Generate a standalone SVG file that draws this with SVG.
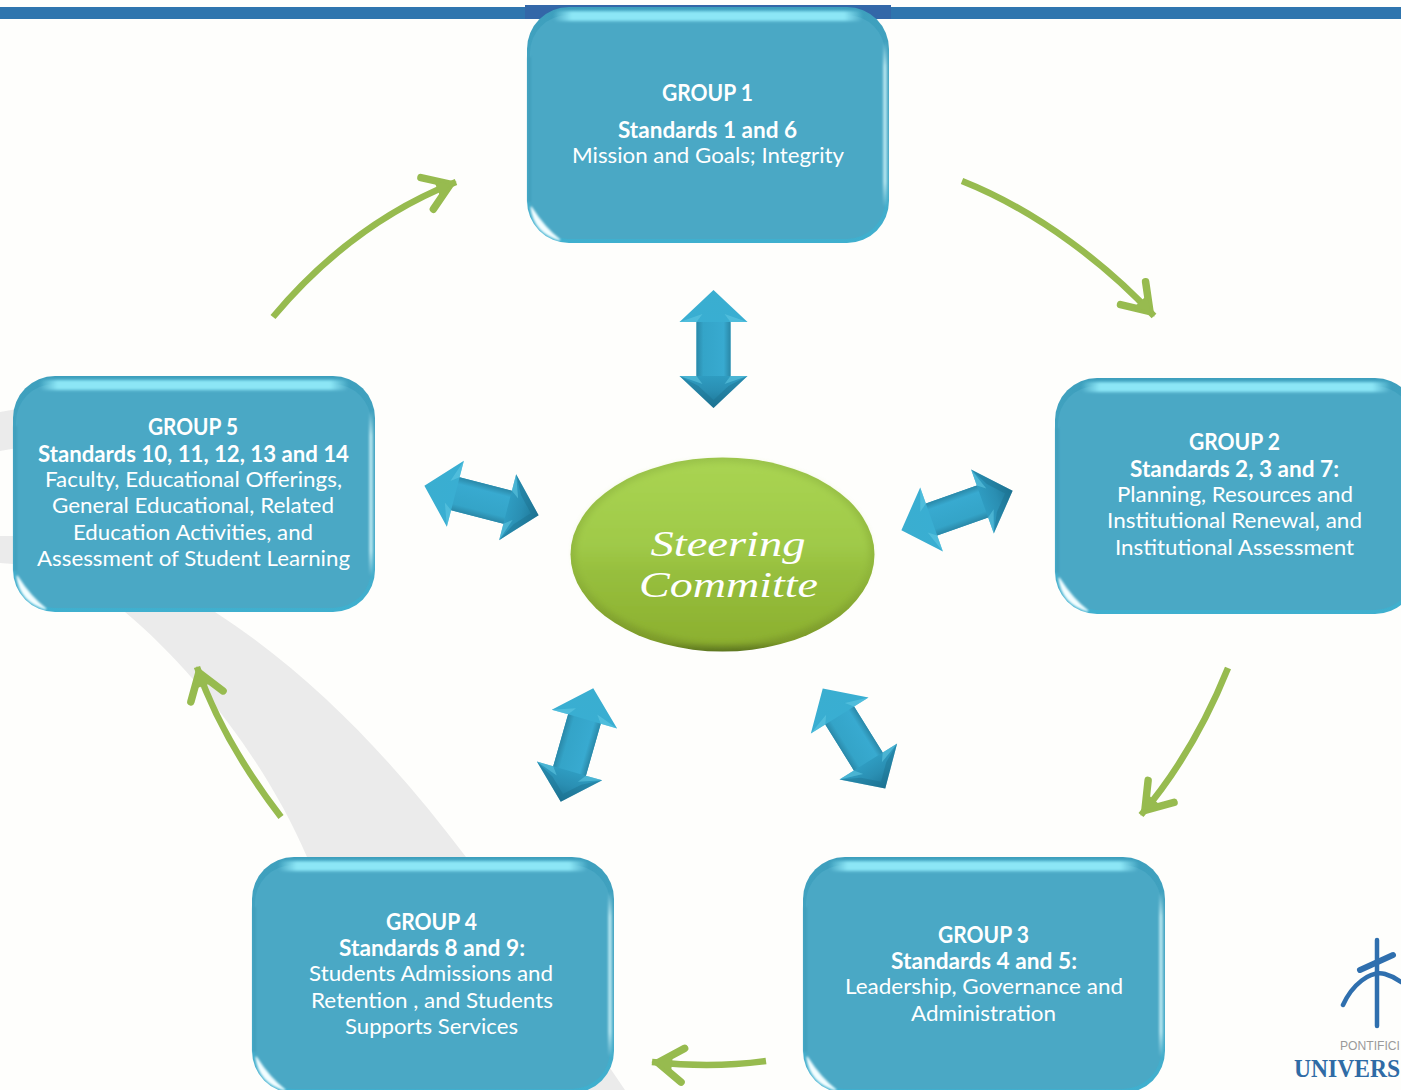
<svg xmlns="http://www.w3.org/2000/svg" width="1401" height="1090" viewBox="0 0 1401 1090">
<style>
text{font-family:Lato,"Liberation Sans",sans-serif;fill:#fff;font-size:22px;text-anchor:middle}
.b{font-weight:700}
.script{font-family:"Liberation Serif",serif;font-style:italic;font-size:36px}
.flow{fill:none;stroke:#97bb4f;stroke-width:6.5;marker-end:url(#head)}
</style>
<defs>
<filter id="soft" x="-30%" y="-80%" width="160%" height="260%"><feGaussianBlur stdDeviation="1.8"/></filter>
<filter id="softc" x="-40%" y="-40%" width="180%" height="180%"><feGaussianBlur stdDeviation="1"/></filter>
<filter id="softv" x="-300%" y="-20%" width="700%" height="140%"><feGaussianBlur stdDeviation="1.3"/></filter>
<filter id="soft2" x="-20%" y="-20%" width="140%" height="140%"><feGaussianBlur stdDeviation="3"/></filter>
<marker id="head" markerUnits="userSpaceOnUse" markerWidth="70" markerHeight="60" refX="50" refY="30" orient="auto" viewBox="0 0 70 60">
<path d="M19,13 L44,30 L19,47" fill="none" stroke="#97bb4f" stroke-width="7.5" stroke-linecap="round" stroke-linejoin="miter"/>
<path d="M30,21 L44,30 L30,39 Z" fill="#97bb4f"/>
</marker>
<linearGradient id="rim" x1="0" y1="0" x2="0" y2="1"><stop offset="0" stop-color="#3d9fbd"/><stop offset=".6" stop-color="#4aa8c5"/><stop offset="1" stop-color="#3fb0cf"/></linearGradient>
<linearGradient id="hl" x1="0" y1="0" x2="1" y2="0"><stop offset="0" stop-color="#8ce6f6" stop-opacity="0"/><stop offset=".06" stop-color="#8ce6f6"/><stop offset=".94" stop-color="#8ce6f6"/><stop offset="1" stop-color="#8ce6f6" stop-opacity="0"/></linearGradient>
<linearGradient id="hr" x1="0" y1="0" x2="0" y2="1"><stop offset="0" stop-color="#d6f8fc" stop-opacity="0"/><stop offset=".15" stop-color="#d6f8fc" stop-opacity=".7"/><stop offset=".85" stop-color="#d6f8fc" stop-opacity=".7"/><stop offset="1" stop-color="#d6f8fc" stop-opacity="0"/></linearGradient>
<linearGradient id="eg" x1="0" y1="0" x2="0" y2="1"><stop offset="0" stop-color="#9ac34a"/><stop offset=".6" stop-color="#8fb53a"/><stop offset=".95" stop-color="#7c9a2a"/><stop offset="1" stop-color="#5c7620"/></linearGradient>
<linearGradient id="eg2" x1="0" y1="0" x2="0" y2="1"><stop offset="0" stop-color="#a9d452"/><stop offset=".45" stop-color="#a0ca49"/><stop offset=".6" stop-color="#97bf3e"/><stop offset="1" stop-color="#8cb02f"/></linearGradient>
<linearGradient id="ah" x1="0" y1="-59" x2="0" y2="59" gradientUnits="userSpaceOnUse"><stop offset="0" stop-color="#3aaed0"/><stop offset=".28" stop-color="#39aed2"/><stop offset=".72" stop-color="#2f9dc2"/><stop offset=".85" stop-color="#2a8fb3"/><stop offset="1" stop-color="#1c7595"/></linearGradient>
<linearGradient id="as" x1="-17" y1="0" x2="17" y2="0" gradientUnits="userSpaceOnUse"><stop offset="0" stop-color="#2a88a8"/><stop offset=".2" stop-color="#34a4c8"/><stop offset=".8" stop-color="#38aad0"/><stop offset="1" stop-color="#2a88a8"/></linearGradient>
<g id="box">
<rect x="0" y="0" width="362" height="236" rx="42" fill="url(#rim)"/>
<rect x="3" y="8" width="355" height="224" rx="38" fill="#4aa8c5"/>
<rect x="26" y="4" width="310" height="10" rx="5" fill="url(#hl)" filter="url(#soft)"/>
<rect x="356" y="35" width="4" height="165" fill="url(#hr)" filter="url(#softv)"/>
<rect x="1" y="50" width="3" height="145" fill="#3f9fbc" filter="url(#softv)"/>
<path d="M4,200 Q7,226 33,233 Q18,222 4,200 Z" fill="#f4feff" stroke="#e8fbff" stroke-width="1.5" filter="url(#softc)"/>
</g>
<g id="dbl">
<path d="M0,-59 L34,-27 H17 V27 H34 L0,59 L-34,27 H-17 V-27 H-34 Z" fill="url(#ah)"/>
<rect x="-17" y="-27" width="34" height="54" fill="url(#as)"/>
<path d="M-34,-27 L-17,-27 L-11,-35 Z M34,-27 L17,-27 L11,-35 Z M-34,27 L-17,27 L-11,35 Z M34,27 L17,27 L11,35 Z" fill="#62cbe4" opacity=".55"/>
<path d="M0,59 L-34,27 L-15,37 L0,51 L15,37 L34,27 Z" fill="#1c6e8d" opacity=".4"/>
</g>
</defs>

<rect width="1401" height="1090" fill="#fefefc"/>
<g id="background">
<path d="M0,412 L40,405 L40,444 L0,451 Z M0,536 L40,536 L40,566 L0,563 Z" fill="#ebebeb"/>
<path d="M125,612 C200,675 270,770 307,857 L500,1090 L625,1090 L466,857 C400,770 320,680 215,612 Z" fill="#ebebeb"/>
<rect x="0" y="7" width="1401" height="12" fill="#2f75ae"/>
<rect x="525" y="5" width="366" height="14" fill="#3367a8"/>
</g>

<g id="connectors">
<path class="flow" d="M962,181 C1040,212 1110,268 1154,316"/>
<path class="flow" d="M1228,668 C1205,725 1175,775 1141,815"/>
<path class="flow" d="M766,1061 C730,1066 690,1066 652,1062"/>
<path class="flow" d="M281,817 C245,770 215,720 197,667"/>
<path class="flow" d="M273,317 C325,255 385,210 456,182"/>
<use href="#dbl" transform="translate(713.5,349)"/>
<use href="#dbl" transform="translate(481.5,500.5) rotate(-75.5)"/>
<use href="#dbl" transform="translate(957,510.5) rotate(-109.5)"/>
<use href="#dbl" transform="translate(577,745) rotate(16)"/>
<use href="#dbl" transform="translate(854,738.5) rotate(-32)"/>
</g>

<g id="group1">
<use href="#box" x="527" y="7"/>
<text class="b" x="707.5" y="101" textLength="91" lengthAdjust="spacingAndGlyphs">GROUP 1</text>
<text class="b" x="707.5" y="138" textLength="179" lengthAdjust="spacingAndGlyphs">Standards 1 and 6</text>
<text x="708" y="163" textLength="272" lengthAdjust="spacingAndGlyphs">Mission and Goals; Integrity</text>
</g>
<g id="group2">
<use href="#box" x="1055" y="378"/>
<text class="b" x="1234.5" y="450" textLength="91" lengthAdjust="spacingAndGlyphs">GROUP 2</text>
<text class="b" x="1234.5" y="477" textLength="209" lengthAdjust="spacingAndGlyphs">Standards 2, 3 and 7:</text>
<text x="1235" y="502" textLength="236" lengthAdjust="spacingAndGlyphs">Planning, Resources and</text>
<text x="1234.5" y="528" textLength="255" lengthAdjust="spacingAndGlyphs">Institutional Renewal, and</text>
<text x="1234.5" y="555" textLength="239" lengthAdjust="spacingAndGlyphs">Institutional Assessment</text>
</g>
<g id="group3">
<use href="#box" x="803" y="857"/>
<text class="b" x="983.5" y="943" textLength="91" lengthAdjust="spacingAndGlyphs">GROUP 3</text>
<text class="b" x="984" y="969" textLength="186" lengthAdjust="spacingAndGlyphs">Standards 4 and 5:</text>
<text x="984" y="994" textLength="278" lengthAdjust="spacingAndGlyphs">Leadership, Governance and</text>
<text x="983.5" y="1021" textLength="145" lengthAdjust="spacingAndGlyphs">Administration</text>
</g>
<g id="group4">
<use href="#box" x="252" y="857"/>
<text class="b" x="431.5" y="930" textLength="91" lengthAdjust="spacingAndGlyphs">GROUP 4</text>
<text class="b" x="432" y="956" textLength="186" lengthAdjust="spacingAndGlyphs">Standards 8 and 9:</text>
<text x="431" y="981" textLength="244" lengthAdjust="spacingAndGlyphs">Students Admissions and</text>
<text x="432" y="1008" textLength="242" lengthAdjust="spacingAndGlyphs">Retention , and Students</text>
<text x="431.5" y="1034" textLength="173" lengthAdjust="spacingAndGlyphs">Supports Services</text>
</g>
<g id="group5">
<use href="#box" x="13" y="376"/>
<text class="b" x="193" y="435" textLength="90" lengthAdjust="spacingAndGlyphs">GROUP 5</text>
<text class="b" x="193.5" y="462" textLength="311" lengthAdjust="spacingAndGlyphs">Standards 10, 11, 12, 13 and 14</text>
<text x="193.5" y="487" textLength="297" lengthAdjust="spacingAndGlyphs">Faculty, Educational Offerings,</text>
<text x="193" y="513" textLength="282" lengthAdjust="spacingAndGlyphs">General Educational, Related</text>
<text x="193" y="540" textLength="240" lengthAdjust="spacingAndGlyphs">Education Activities, and</text>
<text x="193.5" y="566" textLength="313" lengthAdjust="spacingAndGlyphs">Assessment of Student Learning</text>
</g>
<g id="steering">
<ellipse cx="722.5" cy="554.5" rx="152" ry="97" fill="url(#eg)"/>
<ellipse cx="722.5" cy="553" rx="147" ry="91" fill="url(#eg2)" filter="url(#soft2)"/>
<text class="script" x="728" y="556" textLength="155" lengthAdjust="spacingAndGlyphs">Steering</text>
<text class="script" x="728.5" y="596.5" textLength="179" lengthAdjust="spacingAndGlyphs">Committe</text>
</g>
<g id="logo">
<path d="M1377,940 V1026" stroke="#2f6fae" stroke-width="4.5" fill="none" stroke-linecap="round"/>
<path d="M1360,970 L1393,955" stroke="#2f6fae" stroke-width="6" fill="none" stroke-linecap="round"/>
<path d="M1343,1005 C1352,985 1370,970 1385,974 C1392,976 1397,979 1401,982" stroke="#2f6fae" stroke-width="4.5" fill="none" stroke-linecap="round"/>
<text x="1340" y="1050" textLength="60" lengthAdjust="spacingAndGlyphs" style="font-family:'Liberation Sans',sans-serif;font-size:12px;fill:#9a9a9a;text-anchor:start">PONTIFICI</text>
<text x="1294" y="1077" textLength="106" lengthAdjust="spacingAndGlyphs" style="font-family:'Liberation Serif',serif;font-size:25px;font-weight:700;fill:#2f6ba5;text-anchor:start">UNIVERS</text>
</g>
</svg>
